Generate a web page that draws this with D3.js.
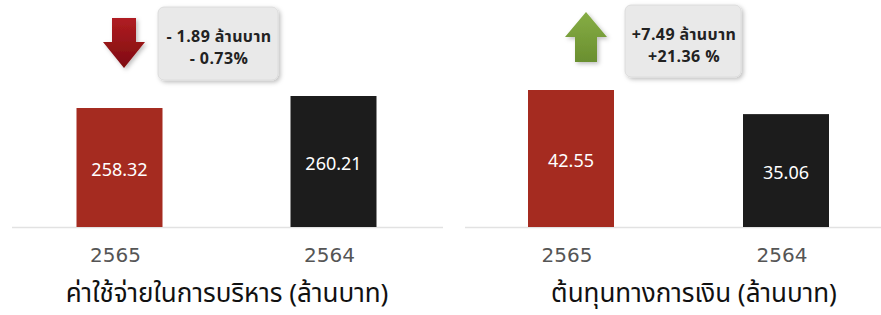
<!DOCTYPE html>
<html>
<head>
<meta charset="utf-8">
<script src="https://cdn.jsdelivr.net/npm/d3@7"></script>
<style>
  html, body { margin: 0; padding: 0; background: #fff; }
  svg { display: block; font-family: "Noto Sans Thai", "Noto Sans", "Open Sans", sans-serif; }
</style>
</head>
<body>
<svg id="chart" width="881" height="315"></svg>
<script>
// data
const years = ['2565', '2564'];
const adminValues = [258.32, 260.21];
const financeValues = [42.55, 35.06];
const panelTitles = ['ค่าใช้จ่ายในการบริหาร (ล้านบาท)', 'ต้นทุนทางการเงิน (ล้านบาท)'];
const adminChange = ['- 1.89 ล้านบาท', '- 0.73%'];
const financeChange = ['+7.49 ล้านบาท', '+21.36 %'];
const barColors = ['#a52b20', '#1c1c1c'];

const svg = d3.select('#chart');
const baseY = 227;
const barW = 86;

const defs = svg.append('defs');
const shadow = defs.append('filter').attr('id', 'shadow')
  .attr('x', '-20%').attr('y', '-20%').attr('width', '150%').attr('height', '150%');
shadow.append('feDropShadow').attr('dx', 2).attr('dy', 2).attr('stdDeviation', 2)
  .attr('flood-color', '#000').attr('flood-opacity', 0.25);

const redGrad = defs.append('linearGradient').attr('id', 'redGrad')
  .attr('x1', 0).attr('y1', 0).attr('x2', 0).attr('y2', 1);
redGrad.append('stop').attr('offset', '0%').attr('stop-color', '#b01d22');
redGrad.append('stop').attr('offset', '100%').attr('stop-color', '#7e0c10');

const greenGrad = defs.append('linearGradient').attr('id', 'greenGrad')
  .attr('x1', 0).attr('y1', 0).attr('x2', 0).attr('y2', 1);
greenGrad.append('stop').attr('offset', '0%').attr('stop-color', '#86ad45');
greenGrad.append('stop').attr('offset', '100%').attr('stop-color', '#6a8f2f');

const panels = [
  { values: adminValues, title: panelTitles[0], change: adminChange,
    x: d3.scalePoint().domain(years).range([119.5, 333.5]),
    y: d3.scaleLinear().domain([239.6, 260.21]).range([baseY, 96]),
    line: [12, 443], titleX: 227,
    arrow: { dir: 'down', cx: 124, top: 18, bottom: 68, fill: 'url(#redGrad)' },
    box: { x: 158, y: 7, w: 120, h: 73 } },
  { values: financeValues, title: panelTitles[1], change: financeChange,
    x: d3.scalePoint().domain(years).range([571, 786]),
    y: d3.scaleLinear().domain([0, 42.55]).range([baseY, 90]),
    line: [465, 881], titleX: 694,
    arrow: { dir: 'up', cx: 586, top: 12, bottom: 62, fill: 'url(#greenGrad)' },
    box: { x: 625, y: 5, w: 116, h: 72 } }
];

panels.forEach((p) => {
  const g = svg.append('g');

  g.append('line')
    .attr('x1', p.line[0]).attr('x2', p.line[1])
    .attr('y1', baseY + 0.5).attr('y2', baseY + 0.5)
    .attr('stroke', '#e2e2e2').attr('stroke-width', 1.5);

  g.selectAll('rect.bar').data(p.values).join('rect')
    .attr('class', 'bar')
    .attr('x', (d, i) => p.x(years[i]) - barW / 2)
    .attr('y', d => p.y(d))
    .attr('width', barW)
    .attr('height', d => baseY - p.y(d))
    .attr('fill', (d, i) => barColors[i]);

  g.selectAll('text.val').data(p.values).join('text')
    .attr('class', 'val')
    .attr('x', (d, i) => p.x(years[i]))
    .attr('y', d => (p.y(d) + baseY) / 2 + 3)
    .attr('text-anchor', 'middle').attr('dominant-baseline', 'middle')
    .attr('fill', '#fff').attr('font-size', 18)
    .text(d => d.toFixed(2));

  g.selectAll('text.year').data(years).join('text')
    .attr('class', 'year')
    .attr('x', d => p.x(d) - 4)
    .attr('y', 256)
    .attr('text-anchor', 'middle').attr('dominant-baseline', 'middle')
    .attr('fill', '#555').attr('font-size', 20)
    .attr('font-family', '"DejaVu Sans", sans-serif')
    .text(d => d);

  g.append('text')
    .attr('x', p.titleX).attr('y', 295)
    .attr('text-anchor', 'middle').attr('dominant-baseline', 'middle')
    .attr('fill', '#111').attr('font-size', 26)
    .text(p.title);

  // arrow
  const a = p.arrow;
  const hw = 21, sw = 12, headLen = 26;
  let pts;
  if (a.dir === 'down') {
    const hy = a.bottom - headLen;
    pts = [[a.cx - sw, a.top], [a.cx + sw, a.top], [a.cx + sw, hy], [a.cx + hw, hy],
      [a.cx, a.bottom], [a.cx - hw, hy], [a.cx - sw, hy]];
  } else {
    const hy = a.top + headLen - 1;
    pts = [[a.cx, a.top], [a.cx + hw, hy], [a.cx + sw - 1, hy], [a.cx + sw - 1, a.bottom],
      [a.cx - sw + 1, a.bottom], [a.cx - sw + 1, hy], [a.cx - hw, hy]];
  }
  g.append('path')
    .attr('d', d3.line()(pts) + 'Z')
    .attr('fill', a.fill)
    .attr('filter', 'url(#shadow)');

  // callout (one text element, two lines)
  const b = p.box;
  g.append('rect')
    .attr('x', b.x).attr('y', b.y).attr('width', b.w).attr('height', b.h)
    .attr('rx', 6)
    .attr('fill', '#e9e9e9').attr('stroke', '#dcdcdc')
    .attr('filter', 'url(#shadow)');
  const cx = b.x + b.w / 2 + 1;
  g.append('text')
    .attr('text-anchor', 'middle')
    .attr('fill', '#222').attr('font-size', 16).attr('font-weight', 'bold')
    .attr('letter-spacing', 0.4)
    .selectAll('tspan').data(p.change).join('tspan')
    .attr('x', cx)
    .attr('y', (d, i) => b.y + 35 + i * 22)
    .text(d => d);
});
</script>
</body>
</html>
